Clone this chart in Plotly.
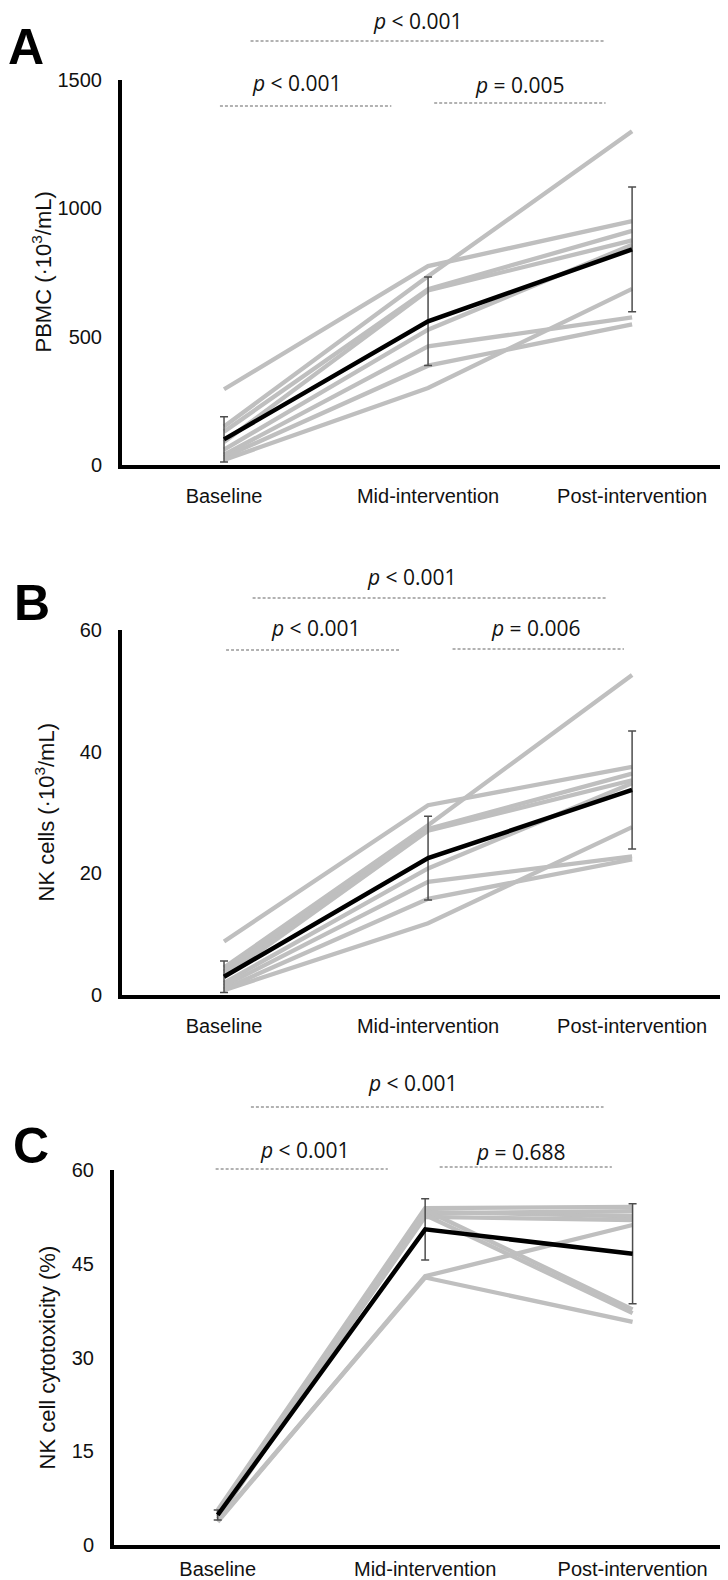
import plotly.graph_objects as go

# Page has an 8px body margin; the figure is sized so it fills the window exactly.
OFF = 8
W, H = 728 - OFF, 1580 - OFF

categories = ["Baseline", "Mid-intervention", "Post-intervention"]

# Panel A: PBMC (x10^3/mL)
pbmc_subjects = [
    [295, 775, 950],
    [150, 735, 1300],
    [130, 685, 912],
    [90, 680, 875],
    [60, 527, 858],
    [40, 462, 575],
    [30, 387, 548],
    [20, 300, 686],
]
pbmc_mean = [100, 560, 840]
pbmc_sd = [88, 172, 243]
pbmc_ticks = [0, 500, 1000, 1500]

# Panel B: NK cells (x10^3/mL)
nk_subjects = [
    [8.8, 31.2, 37.5],
    [4.5, 27.9, 52.6],
    [3.8, 27.3, 36.4],
    [3.0, 27.0, 35.3],
    [2.0, 20.8, 34.8],
    [1.5, 18.6, 22.8],
    [1.0, 15.8, 22.3],
    [0.8, 11.8, 27.6],
]
nk_mean = [3.0, 22.5, 33.7]
nk_sd = [2.6, 6.9, 9.7]
nk_ticks = [0, 20, 40, 60]

# Panel C: NK cell cytotoxicity (%)
cyto_subjects = [
    [5.6, 53.9, 54.1],
    [5.2, 53.3, 52.6],
    [5.0, 53.1, 53.4],
    [4.8, 52.5, 52.0],
    [4.5, 53.6, 37.7],
    [4.2, 52.8, 37.1],
    [3.7, 43.0, 51.2],
    [3.9, 42.8, 35.7],
]
cyto_mean = [4.8, 50.5, 46.6]
cyto_sd = [0.8, 4.9, 8.0]
cyto_ticks = [0, 15, 30, 45, 60]

# p-value labels per panel: (top, left, right)
pvals_A = ["<i>p</i> < 0.001", "<i>p</i> < 0.001", "<i>p</i> = 0.005"]
pvals_B = ["<i>p</i> < 0.001", "<i>p</i> < 0.001", "<i>p</i> = 0.006"]
pvals_C = ["<i>p</i> < 0.001", "<i>p</i> < 0.001", "<i>p</i> = 0.688"]

GRAY = "#bfbfbf"
AXFONT = "Liberation Sans, Arial, sans-serif"
PFONT = "Open Sans, Noto Sans, sans-serif"


def py(p):
    return 1 - (p - OFF) / H


def pxp(p):
    return (p - OFF) / W


panels = [
    dict(sub=pbmc_subjects, mean=pbmc_mean, sd=pbmc_sd, ticks=pbmc_ticks, ymax=1500,
         xl=122, top=80, bot=465, xr=[-0.5, 2.47], xticklen=10,
         title="PBMC (·10<sup>3</sup>/mL)", tx=41, letter="A", lx=26, ly=47,
         pv=pvals_A,
         top_t=(0.95, 21), top_d=(0.13, 1.87, 41),
         l_t=(0.36, 83), l_d=(-0.02, 0.82, 106),
         r_t=(1.45, 85), r_d=(1.03, 1.87, 103)),
    dict(sub=nk_subjects, mean=nk_mean, sd=nk_sd, ticks=nk_ticks, ymax=60,
         xl=122, top=630, bot=995, xr=[-0.5, 2.47], xticklen=10,
         title="NK cells (·10<sup>3</sup>/mL)", tx=44, letter="B", lx=32, ly=603,
         pv=pvals_B,
         top_t=(0.92, 577), top_d=(0.14, 1.87, 598),
         l_t=(0.45, 628), l_d=(0.01, 0.86, 650),
         r_t=(1.53, 628), r_d=(1.12, 1.96, 649)),
    dict(sub=cyto_subjects, mean=cyto_mean, sd=cyto_sd, ticks=cyto_ticks, ymax=60,
         xl=114, top=1170, bot=1545, xr=[-0.5, 2.46], xticklen=3,
         title="NK cell cytotoxicity (%)", tx=47, letter="C", lx=31, ly=1146,
         pv=pvals_C,
         top_t=(0.94, 1083), top_d=(0.16, 1.86, 1107),
         l_t=(0.42, 1150), l_d=(-0.01, 0.82, 1169),
         r_t=(1.46, 1152), r_d=(1.07, 1.90, 1167)),
]

fig = go.Figure()
annotations = []
shapes = []
layout_axes = {}

for i, p in enumerate(panels):
    k = "" if i == 0 else str(i + 1)
    xa, ya = "x" + k, "y" + k
    for s in p["sub"]:
        fig.add_trace(go.Scatter(x=categories, y=s, mode="lines", xaxis=xa, yaxis=ya,
                                 line=dict(color=GRAY, width=4.3), showlegend=False,
                                 hoverinfo="skip"))
    fig.add_trace(go.Scatter(x=categories, y=p["mean"], mode="lines", xaxis=xa, yaxis=ya,
                             line=dict(color="black", width=4.5), showlegend=False,
                             error_y=dict(type="data", array=p["sd"], visible=True,
                                          color="#4d4d4d", thickness=1.5, width=4),
                             cliponaxis=False))
    layout_axes["xaxis" + k] = dict(
        domain=[pxp(p["xl"]), 1], range=p["xr"], type="category", categoryorder="array",
        categoryarray=categories, anchor=ya, showline=True, linecolor="black",
        linewidth=4, showgrid=False, zeroline=False, ticks="outside", ticklen=p["xticklen"],
        tickcolor="rgba(0,0,0,0)", tickfont=dict(family=AXFONT, size=20, color="#111"),
        automargin=False, fixedrange=True)
    layout_axes["yaxis" + k] = dict(
        domain=[py(p["bot"]), py(p["top"])], range=[0, p["ymax"]], anchor=xa,
        tickvals=p["ticks"], showline=True, linecolor="black", linewidth=4,
        showgrid=False, zeroline=False, ticks="outside", ticklen=12,
        tickcolor="rgba(0,0,0,0)", tickfont=dict(family=AXFONT, size=20, color="#111"),
        automargin=False, fixedrange=True)
    annotations.append(dict(text=p["title"], x=pxp(p["tx"]), y=py((p["top"] + p["bot"]) / 2),
                            xref="paper", yref="paper", textangle=-90, showarrow=False,
                            xanchor="center", yanchor="middle",
                            font=dict(family=AXFONT, size=22, color="#111")))
    annotations.append(dict(text="<b>%s</b>" % p["letter"], x=pxp(p["lx"]), y=py(p["ly"]),
                            xref="paper", yref="paper", showarrow=False,
                            xanchor="center", yanchor="middle",
                            font=dict(family=AXFONT, size=50, color="black")))
    for txt, tpos, dpos in zip(p["pv"], [p["top_t"], p["l_t"], p["r_t"]],
                               [p["top_d"], p["l_d"], p["r_d"]]):
        annotations.append(dict(text=txt, x=tpos[0], y=py(tpos[1]), xref=xa, yref="paper",
                                showarrow=False, xanchor="center", yanchor="middle",
                                font=dict(family=PFONT, size=21, color="#111")))
        shapes.append(dict(type="line", xref=xa, yref="paper", x0=dpos[0], x1=dpos[1],
                           y0=py(dpos[2]), y1=py(dpos[2]),
                           line=dict(color="#666666", width=1.2, dash="3px,2px")))

fig.update_layout(
    width=W, height=H, margin=dict(l=0, r=0, t=0, b=0, autoexpand=False),
    paper_bgcolor="white", plot_bgcolor="white",
    annotations=annotations, shapes=shapes, showlegend=False,
    **layout_axes)

fig.write_html("out.html", config={"displayModeBar": False})
